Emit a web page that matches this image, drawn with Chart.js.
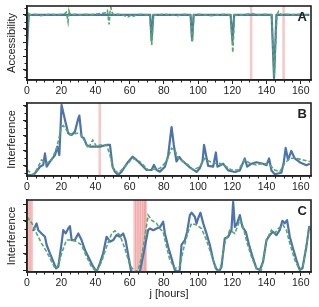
<!DOCTYPE html>
<html><head><meta charset="utf-8">
<script src="https://cdn.jsdelivr.net/npm/chart.js@4.4.1/dist/chart.umd.min.js"></script>
<style>
html,body{margin:0;padding:0;background:#fff;}
#wrap{position:relative;width:319px;height:307px;overflow:hidden;}
canvas{position:absolute;left:0;}
</style></head><body>
<div id="wrap">
<canvas id="cA" width="319" height="97" style="top:0px;width:319px;height:97px"></canvas>
<canvas id="cB" width="319" height="97" style="top:97px;width:319px;height:97px"></canvas>
<canvas id="cC" width="319" height="113" style="top:194px;width:319px;height:113px"></canvas>
</div>
<script>
// ---- data (hour, value) ----
const accessBlue = [[0,0.53],[1,1.0],[72,1.0],[72.8,0.63],[73.8,1.0],[95.6,1.0],[96.5,0.63],[97.4,1.0],[119,1.0],[120.1,0.62],[121.1,1.0],[143,1.0],[144.4,0.08],[145.8,1.0],[165,1.0]];
const accessGreen = [[0,0.58],[1,1.02],[2,1.0],[5,1.01],[8,0.99],[11,1.0],[14,1.01],[17,1.0],[20,1.01],[22,1.02],[23,1.04],[24,0.9],[24.5,1.06],[25,1.02],[26,1.0],[28,1.01],[31,1.0],[34,1.01],[37,1.0],[40,1.01],[43,1.02],[46,1.03],[47,1.06],[48,0.86],[48.5,1.04],[49,1.11],[49.5,1.06],[50,1.02],[51,1.0],[53,1.01],[56,1.0],[59,0.97],[61,1.0],[62,0.98],[64,1.0],[67,1.01],[70,1.0],[71.8,1.01],[72.9,0.56],[74,1.0],[76,1.0],[80,1.01],[84,1.0],[88,0.99],[92,1.01],[95.5,1.0],[96.6,0.6],[97.6,1.0],[100,1.01],[104,1.0],[108,0.99],[112,1.0],[116,1.01],[119,1.0],[120.3,0.45],[121.3,1.0],[123,1.0],[127,1.0],[131,1.02],[135,1.0],[139,1.01],[143,1.0],[144.5,0.1],[146,1.0],[147,1.05],[148.5,1.0],[151,1.01],[155,1.0],[159,1.01],[163,1.0],[165,1.0]];

const interfBlueB = [[0,0.4],[3.7,0.38],[7.6,0.95],[9.5,1.07],[10.5,1.84],[11.5,0.95],[13.4,1.29],[16.4,1.73],[17.7,2.29],[18.9,1.73],[20.2,5.07],[22.2,4.07],[24.1,3.18],[26.1,3.07],[28,3.29],[30,4.18],[30.6,4.36],[31.9,2.96],[33.3,2.84],[34.8,2.4],[36.8,2.29],[39.7,2.29],[42.6,2.29],[46.5,2.4],[48.5,2.4],[50,0.95],[51.4,0.62],[53.3,0.4],[55.3,0.62],[57.2,0.95],[59.2,1.29],[61.7,1.62],[64,1.4],[66,1.18],[69.9,0.73],[72.8,0.73],[74.2,1.07],[75.7,0.73],[77.7,0.62],[80.6,0.95],[82.5,1.7],[84.5,3.6],[85.8,2.4],[87.4,1.3],[89,1.6],[90.3,1.4],[92.3,1.2],[95.2,0.9],[99.1,0.6],[101,0.85],[102.6,1.3],[103.5,2.4],[104.5,1.8],[105.9,1.0],[108.8,0.95],[110.4,1.9],[111.3,0.95],[114.6,1.15],[117.6,0.7],[121.5,0.6],[124.4,0.7],[127.3,1.5],[128.7,0.95],[131.2,1.15],[134.1,1.25],[138,1.15],[140,1.05],[141.5,1.5],[142.9,0.7],[144.8,0.45],[148.7,0.55],[150.1,1.25],[151.2,2.2],[152.6,1.4],[154.5,2.0],[156.5,1.5],[159.4,1.25],[163.3,1.05],[165.3,1.15]];
const interfGreenB = [[0,0.73],[3.7,0.4],[5.6,0.73],[8.5,1.4],[11.5,1.18],[14.4,1.4],[17.3,2.18],[20.2,3.62],[21.2,3.69],[23.1,3.4],[25.1,3.07],[29,3.18],[31,3.18],[33.9,2.62],[35.8,2.18],[38.4,2.73],[40.7,2.29],[42.6,2.4],[46.5,2.4],[48.5,1.73],[50.4,0.84],[53.3,0.51],[58.2,1.07],[61.7,1.51],[66,1.29],[70.9,0.73],[77.7,0.84],[81.5,1.29],[84.5,2.18],[86.4,2.07],[88.4,1.51],[91.3,1.29],[94.2,1.07],[97.1,0.73],[101,0.95],[103.9,1.51],[106.9,1.29],[109.8,1.18],[112.7,1.18],[116.6,0.95],[119.5,0.73],[123.4,0.73],[127.3,1.4],[130.2,1.18],[134.1,1.07],[138,1.18],[141.9,1.07],[144.8,0.73],[147.7,0.62],[150.7,1.18],[153.6,1.51],[157.5,1.51],[161.4,1.4],[165.3,1.29]];

const interfBlueC = [[3.2,3.45],[3.7,3.42],[5.6,3.83],[6.6,3.42],[8.5,3.22],[10.5,3.02],[11.5,2.52],[13.4,2.01],[15.4,1.51],[17,1.1],[18.3,1.2],[20.2,2.62],[21.2,3.42],[22.6,3.22],[24.1,3.52],[25.1,3.66],[26.1,2.82],[28,2.82],[30,3.22],[31.9,2.82],[33.9,2.21],[35.8,1.81],[38.7,1.2],[40.7,0.9],[42.6,1.4],[44.5,2.01],[46.5,3.02],[48.5,2.72],[50.4,2.82],[52.3,3.12],[54.3,3.02],[56.2,3.22],[57.6,2.82],[59,2.01],[60.7,1.0],[62,0.8],[64.5,0.8],[66,0.9],[70.8,3.42],[71.8,3.52],[73.8,3.42],[75.7,3.52],[77.7,3.6],[79.6,3.93],[80.6,3.22],[82.5,2.41],[84.5,1.71],[86.4,1.0],[88.4,0.9],[89.3,1.0],[90.3,2.52],[92.3,2.82],[93.6,3.32],[95.2,4.33],[96.2,4.48],[98.1,4.23],[99.1,3.83],[100,4.13],[101.4,4.48],[103,3.83],[104.9,3.22],[106.9,2.52],[108.8,1.61],[110.4,1.1],[112.3,0.9],[113.7,1.2],[115.6,2.92],[117.6,3.02],[119.5,3.42],[120.5,5.14],[121.5,3.62],[122.8,3.83],[124.4,4.33],[125.9,3.62],[127.9,3.32],[129.8,2.52],[131.8,1.81],[134.1,1.1],[136.1,1.0],[138,1.51],[140,2.82],[141.9,3.12],[143.8,3.32],[145.8,3.12],[147.7,3.42],[149.3,3.99],[150.6,3.83],[152,4.03],[153.6,3.02],[155.5,2.31],[157.5,1.61],[159.4,1.0],[161,1.1],[163.3,2.41],[164.9,3.62],[165.5,3.42]];
const interfGreenC = [[0,4.23],[2.9,3.83],[5.6,3.22],[8.5,2.62],[11.5,2.11],[14.4,1.51],[16.4,1.1],[18.3,1.3],[20.2,2.01],[23.1,2.82],[26.1,2.82],[29,2.72],[31.9,2.52],[34.8,1.81],[37.7,1.2],[40.7,0.9],[43.6,1.51],[46.5,2.41],[49.5,3.22],[51.4,3.38],[54.3,3.12],[57.2,2.31],[60.1,1.3],[63,0.9],[65,1.0],[67,1.81],[68.9,3.02],[70.8,4.33],[72.8,4.03],[75.7,3.83],[77.7,3.5],[79.6,3.32],[81.6,2.4],[83.5,1.61],[86.4,1.1],[89.3,1.2],[91.3,2.21],[94.2,3.32],[96.2,3.83],[99.1,3.73],[102,3.52],[104.9,2.82],[107.8,1.91],[110.7,1.1],[112.7,0.9],[115.6,2.62],[118.5,3.42],[121.5,3.22],[124.4,4.03],[126.3,3.62],[128.7,2.62],[131.2,1.81],[134.1,1.1],[137,1.0],[140,2.82],[142.9,3.42],[144.8,3.22],[146.8,3.52],[149.7,3.73],[151.6,3.42],[153.6,2.62],[156.5,1.61],[159.4,1.0],[161.4,1.3],[163.3,2.52],[165.3,3.73]];

const bandsA = [131, 150];
const bandsB = [42.5];
const bandsC = [0.75, 1.75, 2.75, 62.9, 63.9, 64.9, 65.9, 66.9, 67.9, 68.9, 69.3];

const xTitle = 'j [hours]';
const panelLetters = ['A', 'B', 'C'];
const yTitles = ['Accessibility', 'Interference', 'Interference'];

// ---- styling / plugins ----
const BLUE = '#4c72b0', GREEN = '#55a868', INK = '#222';
const FONT = '"Liberation Sans", Arial, sans-serif';

const bandPlugin = {
  id: 'bands',
  beforeDatasetsDraw(chart, args, opts) {
    const {ctx, chartArea:{top,bottom}} = chart; const xs = chart.scales.x;
    ctx.save(); ctx.fillStyle = 'rgba(232,110,110,0.38)';
    (opts.list||[]).forEach(c => {
      const a = xs.getPixelForValue(c - 0.75), b = xs.getPixelForValue(c + 0.75);
      const l = Math.max(a, chart.chartArea.left);
      ctx.fillRect(l, top, b - l, bottom - top);
    });
    ctx.restore();
  }
};
const decoPlugin = {
  id: 'deco',
  afterDraw(chart, args, opts) {
    const {ctx, chartArea:{left,right,top,bottom}} = chart;
    const xs = chart.scales.x, ys = chart.scales.y;
    ctx.save();
    ctx.strokeStyle = INK; ctx.lineWidth = 1;
    for (let v = 5; v <= xs.max; v += 5) {
      if (v % 20 === 0) continue;
      const p = Math.round(xs.getPixelForValue(v)) + 0.5;
      ctx.beginPath(); ctx.moveTo(p, bottom); ctx.lineTo(p, bottom + 2.5); ctx.stroke();
    }
    const ms = opts.yMinor;
    for (let v = Math.ceil(ys.min / ms) * ms; v <= ys.max; v += ms) {
      const p = Math.round(ys.getPixelForValue(v)) + 0.5;
      ctx.beginPath(); ctx.moveTo(left, p); ctx.lineTo(left - 2.5, p); ctx.stroke();
    }
    ctx.lineWidth = 1.6; ctx.strokeStyle = INK;
    ctx.strokeRect(left, top, right - left, bottom - top);
    ctx.fillStyle = INK; ctx.font = 'bold 13px ' + FONT;
    ctx.textAlign = 'right'; ctx.textBaseline = 'alphabetic';
    ctx.fillText(opts.letter, right - 4, top + 15);
    ctx.restore();
  }
};

function pts(arr) { return arr.map(p => ({x: p[0], y: p[1]})); }

function makeChart(id, blue, green, bands, yMin, yMax, yStep, yTitle, letter, xHeight, showXTitle) {
  return new Chart(document.getElementById(id), {
    type: 'line',
    data: { datasets: [
      { data: pts(green), borderColor: GREEN, borderWidth: 1.6, borderDash: [4, 2], pointRadius: 0, tension: 0, fill: false },
      { data: pts(blue), borderColor: BLUE, borderWidth: 2.2, pointRadius: 0, tension: 0, fill: false, borderJoinStyle: 'round' }
    ]},
    options: {
      responsive: false, animation: false, devicePixelRatio: 1,
      layout: { padding: { top: 6, right: 8, left: 0, bottom: 0 } },
      plugins: { legend: { display: false }, tooltip: { enabled: false },
        bands: { list: bands }, deco: { letter: letter, yMinor: yStep / 2 } },
      scales: {
        x: { type: 'linear', min: 0, max: 166,
          afterFit: s => { s.height = xHeight; },
          ticks: { stepSize: 20, includeBounds: false, padding: 1, color: INK, maxRotation: 0, autoSkip: false,
                   font: { family: FONT, size: 10.5 } },
          grid: { drawOnChartArea: false, drawTicks: true, tickLength: 4, tickColor: INK, tickWidth: 1 },
          border: { display: true, color: INK, width: 1.6 },
          title: { display: showXTitle, text: xTitle, color: INK, font: { family: FONT, size: 11 }, padding: { top: 0, bottom: 6 } } },
        y: { type: 'linear', min: yMin, max: yMax,
          afterFit: s => { s.width = 27; },
          ticks: { display: false, stepSize: yStep, includeBounds: false },
          grid: { drawOnChartArea: false, drawTicks: true, tickLength: 4, tickColor: INK, tickWidth: 1 },
          border: { display: true, color: INK, width: 1.6 },
          title: { display: true, text: yTitle, color: INK, font: { family: FONT, size: 11 }, padding: { top: 5, bottom: 0 } } }
      }
    },
    plugins: [bandPlugin, decoPlugin]
  });
}

makeChart('cA', accessBlue, accessGreen, bandsA, 0.05, 1.13, 0.2, yTitles[0], panelLetters[0], 17, false);
makeChart('cB', interfBlueB, interfGreenB, bandsB, 0.33, 5.2, 1, yTitles[1], panelLetters[1], 18, false);
makeChart('cC', interfBlueC, interfGreenC, bandsC, 0.88, 5.25, 1, yTitles[2], panelLetters[2], 35, true);
</script>
</body></html>
